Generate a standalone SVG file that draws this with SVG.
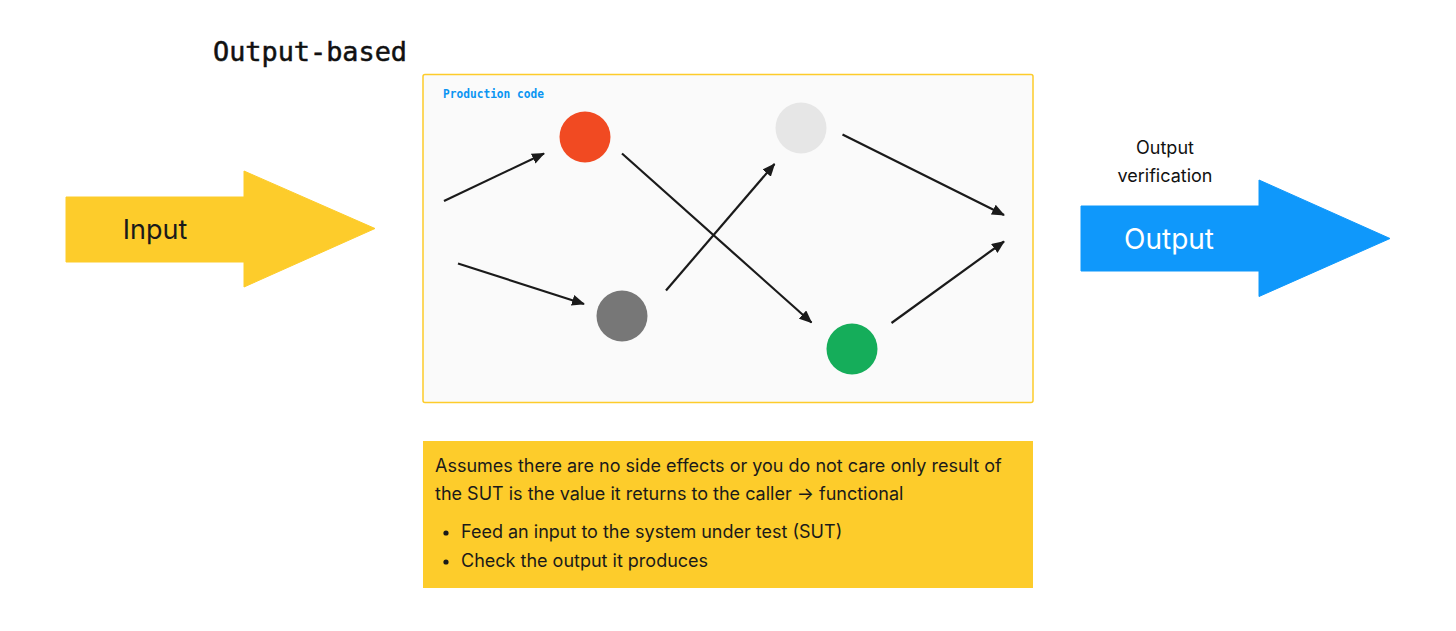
<svg xmlns="http://www.w3.org/2000/svg" width="1456" height="631" viewBox="0 0 1456 631">
<style>
.sans{font-family:Inter,"Noto Sans","Liberation Sans",sans-serif}
.mono{font-family:"DejaVu Sans Mono","Liberation Mono",monospace}
.edge{stroke:#1a1a1a;stroke-width:2.2;fill:none;marker-end:url(#ah)}
.body{font-size:18px;fill:#1a1a1a}
</style>
<defs>
<marker id="ah" viewBox="0 0 13 11" refX="12" refY="5.5" markerWidth="13" markerHeight="11" markerUnits="userSpaceOnUse" orient="auto">
<path d="M0,0 L13,5.5 L0,11 Z" fill="#1a1a1a"/>
</marker>
</defs>
<rect width="1456" height="631" fill="#ffffff"/>
<text class="mono" x="213" y="61" font-size="26.5" fill="#111" stroke="#111" stroke-width="0.5" textLength="194" lengthAdjust="spacingAndGlyphs">Output-based</text>
<g id="input">
<path d="M66,197 L244,197 L244,171 L375,228.5 L244,287 L244,262 L66,262 Z" fill="#FDCC2B" stroke="#FDCC2B" stroke-width="1" stroke-linejoin="round"/>
<text class="sans" x="155" y="239" font-size="27" fill="#1a1a1a" text-anchor="middle">Input</text>
</g>
<g id="production">
<rect x="423" y="74.5" width="610" height="328" rx="2" fill="#FAFAFA" stroke="#FDCC2B" stroke-width="1.5"/>
<text class="mono" x="443" y="98" font-size="11.5" font-weight="bold" fill="#0A95F2" textLength="101" lengthAdjust="spacingAndGlyphs">Production code</text>
</g>
<g id="node-red"><circle cx="585" cy="137" r="25.5" fill="#F14A22"/></g>
<g id="node-gray"><circle cx="622" cy="316" r="25.5" fill="#777777"/></g>
<g id="node-light"><circle cx="801" cy="128" r="25.5" fill="#E6E6E6"/></g>
<g id="node-green"><circle cx="852" cy="349" r="25.5" fill="#15AD5A"/></g>
<g id="connectors">
<line class="edge" x1="444" y1="201" x2="544" y2="153.5"/>
<line class="edge" x1="458" y1="263.5" x2="584" y2="304"/>
<line class="edge" x1="622" y1="153.5" x2="811.5" y2="322.5"/>
<line class="edge" x1="666" y1="290.5" x2="774.5" y2="164"/>
<line class="edge" x1="842.5" y1="134.5" x2="1004" y2="215"/>
<line class="edge" x1="891.5" y1="323" x2="1004" y2="241.5"/>
</g>
<g id="output">
<text class="sans" x="1165" y="154" font-size="18" fill="#111" text-anchor="middle">Output</text>
<text class="sans" x="1165" y="182" font-size="18" fill="#111" text-anchor="middle">verification</text>
<path d="M1081,206 L1259,206 L1259,180 L1390,238.5 L1259,296.5 L1259,271 L1081,271 Z" fill="#0F98FB" stroke="#0F98FB" stroke-width="1" stroke-linejoin="round"/>
<text class="sans" x="1169" y="249" font-size="28" fill="#ffffff" text-anchor="middle">Output</text>
</g>
<g id="note">
<rect x="423" y="441" width="610" height="147" fill="#FDCC2B"/>
<text class="sans body" x="435" y="472">Assumes there are no side effects or you do not care only result of</text>
<text class="sans body" x="435" y="500">the SUT is the value it returns to the caller → functional</text>
<circle cx="446" cy="533" r="2.6" fill="#1a1a1a"/>
<text class="sans body" x="461" y="538">Feed an input to the system under test (SUT)</text>
<circle cx="446" cy="562" r="2.6" fill="#1a1a1a"/>
<text class="sans body" x="461" y="567">Check the output it produces</text>
</g>
</svg>
